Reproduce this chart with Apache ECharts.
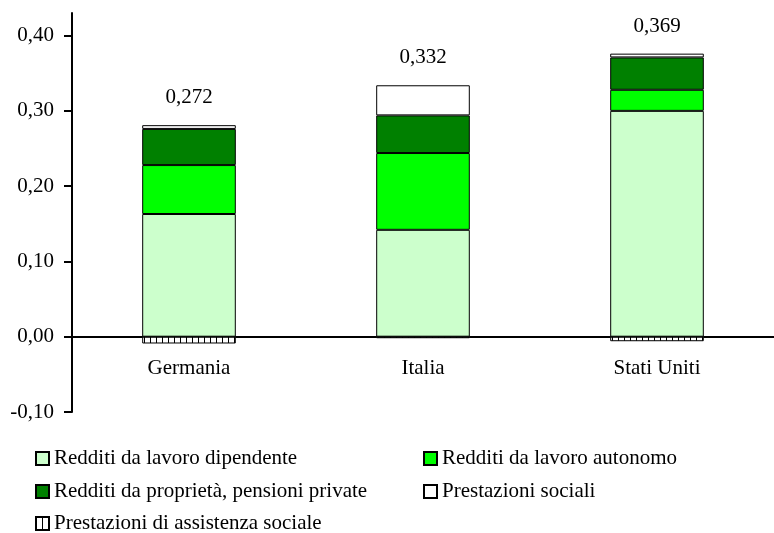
<!DOCTYPE html>
<html>
<head>
<meta charset="utf-8">
<script src="https://cdn.jsdelivr.net/npm/echarts@6/dist/echarts.min.js"></script>
<style>
html, body { margin: 0; padding: 0; background: #fff; }
#chart { width: 774px; height: 533px; }
</style>
</head>
<body>
<div id="chart"></div>
<script>
var categories = ["Germania", "Italia", "Stati Uniti"];
var lavoroDipendente = [0.163, 0.142, 0.300];
var lavoroAutonomo = [0.065, 0.102, 0.028];
var proprieta = [0.048, 0.050, 0.043];
var prestazioniSociali = [0.005, 0.040, 0.005];
var assistenzaSociale = [-0.009, -0.002, -0.006];
var totali = [0.272, 0.332, 0.369];
var yTicks = [-0.1, 0, 0.1, 0.2, 0.3, 0.4];
var seriesNames = [
    "Redditi da lavoro dipendente",
    "Redditi da lavoro autonomo",
    "Redditi da proprietà, pensioni private",
    "Prestazioni sociali",
    "Prestazioni di assistenza sociale"
];

var fontName = "Liberation Serif";

function fmt(v, d) {
    return v.toFixed(d).replace(".", ",");
}

// vertical hatch for the assistance series
function makeHatch() {
    var c = document.createElement("canvas");
    c.width = 6;
    c.height = 4;
    var ctx = c.getContext("2d");
    ctx.fillStyle = "#ffffff";
    ctx.fillRect(0, 0, 6, 4);
    ctx.fillStyle = "#000000";
    ctx.fillRect(0, 0, 1, 4);
    return c;
}

var myChart = echarts.init(document.getElementById("chart"), null, { renderer: "canvas" });

function barSeries(name, data, color) {
    return {
        name: name,
        type: "bar",
        stack: "tot",
        barWidth: "40%",
        data: data,
        itemStyle: {
            color: color,
            borderColor: "#000",
            borderWidth: 1
        }
    };
}

// one legend per item, laid out in two columns
var legendSpots = [[35, 448], [423, 448], [35, 481], [423, 481], [35, 513]];
var legends = [];
for (var i = 0; i < seriesNames.length; i++) {
    legends.push({
        left: legendSpots[i][0],
        top: legendSpots[i][1],
        padding: 0,
        icon: "rect",
        itemWidth: 13,
        itemHeight: 13,
        data: [seriesNames[i]],
        textStyle: { fontFamily: fontName, fontSize: 21, color: "#000" }
    });
}

var s4 = barSeries(seriesNames[3], prestazioniSociali, "#ffffff");
s4.label = {
    show: true,
    position: "top",
    distance: 17,
    color: "#000",
    fontFamily: fontName,
    fontSize: 21,
    formatter: function (p) {
        return fmt(totali[p.dataIndex], 3);
    }
};

var option = {
    animation: false,
    textStyle: { fontFamily: fontName },
    grid: { left: 72, top: 13, width: 710, height: 399, containLabel: false },
    legend: legends,
    xAxis: {
        type: "category",
        data: categories,
        axisLine: { onZero: true, lineStyle: { color: "#000", width: 2 } },
        axisTick: { show: false },
        axisLabel: { color: "#000", fontFamily: fontName, fontSize: 21, margin: -54 }
    },
    yAxis: {
        type: "value",
        min: -0.1,
        max: 0.43,
        splitLine: { show: false },
        axisLine: { show: true, lineStyle: { color: "#000", width: 2 } },
        axisTick: { show: true, length: 8, lineStyle: { color: "#000", width: 2 }, customValues: yTicks },
        axisLabel: {
            color: "#000",
            fontFamily: fontName,
            fontSize: 21,
            margin: 18,
            customValues: yTicks,
            formatter: function (v) { return fmt(v, 2); }
        }
    },
    series: [
        barSeries(seriesNames[0], lavoroDipendente, "#ccffcc"),
        barSeries(seriesNames[1], lavoroAutonomo, "#00ff00"),
        barSeries(seriesNames[2], proprieta, "#008000"),
        s4,
        barSeries(seriesNames[4], assistenzaSociale, { image: makeHatch(), repeat: "repeat" })
    ]
};
myChart.setOption(option);
</script>
</body>
</html>
